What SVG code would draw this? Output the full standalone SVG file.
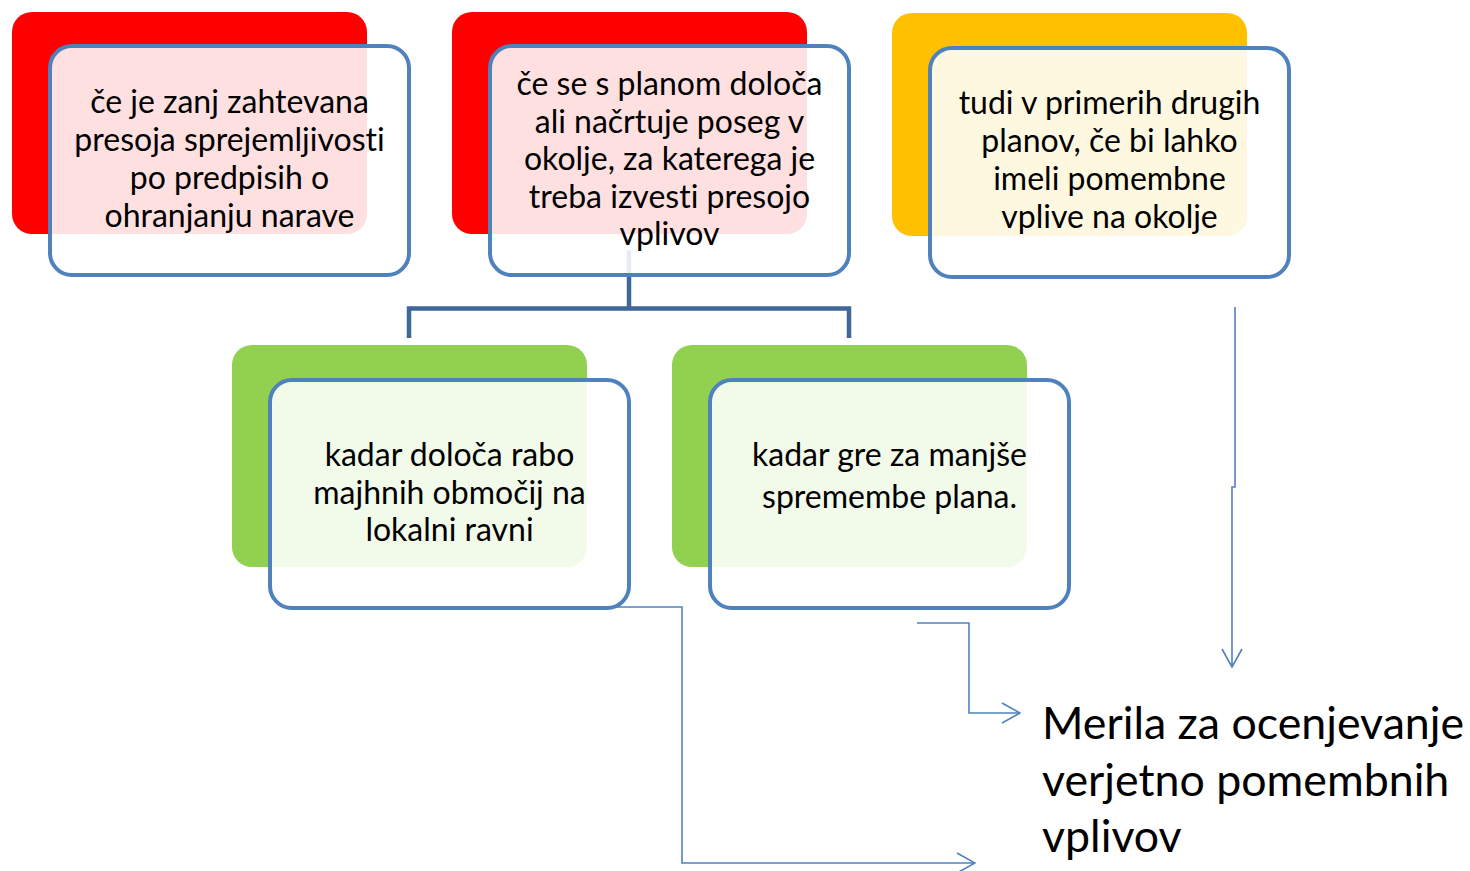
<svg xmlns="http://www.w3.org/2000/svg" width="1470" height="871" viewBox="0 0 1470 871">
<defs>
<style>
.back{stroke:none}
.card{fill:#ffffff;fill-opacity:0.88;stroke:#4f81bd;stroke-width:4}
.t{font-family:Lato,"Liberation Sans",sans-serif;font-size:32px;fill:#000;text-anchor:middle;font-variant-ligatures:none}
.big{font-family:Lato,"Liberation Sans",sans-serif;font-size:44.7px;fill:#000;font-variant-ligatures:none}
.tree{fill:none;stroke:#3f6797;stroke-width:4.5}
.arr{fill:none;stroke:#4f81bd;stroke-width:1.6}
</style>
<marker id="open" viewBox="0 0 20 22" refX="19" refY="11" markerWidth="20" markerHeight="22" markerUnits="userSpaceOnUse" orient="auto">
<path d="M1,1 L19,11 L1,21" fill="none" stroke="#4f81bd" stroke-width="1.6"/>
</marker>
</defs>
<rect width="1470" height="871" fill="#ffffff"/>

<g id="backs">
<rect class="back" x="12" y="12" width="355" height="222" rx="20" fill="#ff0000"/>
<rect class="back" x="452" y="12" width="355" height="222" rx="20" fill="#ff0000"/>
<rect class="back" x="892" y="13" width="355" height="223" rx="20" fill="#ffc000"/>
<rect class="back" x="232" y="345" width="355" height="222" rx="20" fill="#92d050"/>
<rect class="back" x="672" y="345" width="355" height="222" rx="20" fill="#92d050"/>
</g>

<g id="connectors">
<path class="tree" d="M629,250 V308.5 M409,338 V308.5 H849 V338"/>
<path class="arr" d="M612,607 H682 V863 H975" marker-end="url(#open)"/>
<path class="arr" d="M917,623 H969 V713 H1020" marker-end="url(#open)"/>
<path class="arr" d="M1235,307 V487 H1232 V667" marker-end="url(#open)"/>
</g>

<g id="node1">
<rect class="card" x="50" y="46" width="359" height="229" rx="22"/>
<text class="t"><tspan x="229.5" y="113">če je zanj zahtevana</tspan><tspan x="229.5" y="151">presoja sprejemljivosti</tspan><tspan x="229.5" y="189">po predpisih o</tspan><tspan x="229.5" y="227">ohranjanju narave</tspan></text>
</g>

<g id="node2">
<rect class="card" x="490" y="46" width="359" height="229" rx="22"/>
<text class="t"><tspan x="669.5" y="95">če se s planom določa</tspan><tspan x="669.5" y="133">ali načrtuje poseg v</tspan><tspan x="669.5" y="170">okolje, za katerega je</tspan><tspan x="669.5" y="208">treba izvesti presojo</tspan><tspan x="669.5" y="245">vplivov</tspan></text>
</g>

<g id="node3">
<rect class="card" x="930" y="48" width="359" height="229" rx="22"/>
<text class="t"><tspan x="1109.5" y="114">tudi v primerih drugih</tspan><tspan x="1109.5" y="152">planov, če bi lahko</tspan><tspan x="1109.5" y="190">imeli pomembne</tspan><tspan x="1109.5" y="228">vplive na okolje</tspan></text>
</g>

<g id="node4">
<rect class="card" x="270" y="380" width="359" height="228" rx="22"/>
<text class="t"><tspan x="449.5" y="466">kadar določa rabo</tspan><tspan x="449.5" y="504">majhnih območij na</tspan><tspan x="449.5" y="541">lokalni ravni</tspan></text>
</g>

<g id="node5">
<rect class="card" x="710" y="380" width="359" height="228" rx="22"/>
<text class="t"><tspan x="889.5" y="466">kadar gre za manjše</tspan><tspan x="889.5" y="508">spremembe plana.</tspan></text>
</g>

<g id="target">
<text class="big"><tspan x="1042" y="739">Merila za ocenjevanje</tspan><tspan x="1042" y="796">verjetno pomembnih</tspan><tspan x="1042" y="852">vplivov</tspan></text>
</g>
</svg>
